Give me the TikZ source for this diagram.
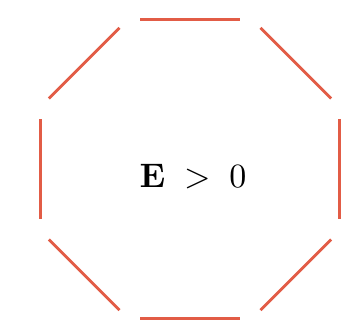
\documentclass[tikz,border=0pt]{standalone}
\usetikzlibrary{calc}
\definecolor{octred}{RGB}{226,92,70}
\tikzset{
  side/.style={draw=octred, line width=2.8pt, shorten <=12pt, shorten >=12pt},
  label/.style={scale=3.4, inner sep=0pt, anchor=base}
}
\begin{document}
\begin{tikzpicture}[x=1pt,y=-1pt]
\useasboundingbox (0,0) rectangle (344,324);
\foreach \k in {0,...,7}{
  \coordinate (v\k) at ($(190,169)+({22.5+45*\k}:162pt)$);
}
\foreach \k [evaluate=\k as \n using {int(mod(\k+1,8))}] in {0,...,7}{
  \draw[side] (v\k) -- (v\n);
}
\node[label] (t) at (193,187) {$\mathbf{E}\;>\;0$};
\end{tikzpicture}
\end{document}
